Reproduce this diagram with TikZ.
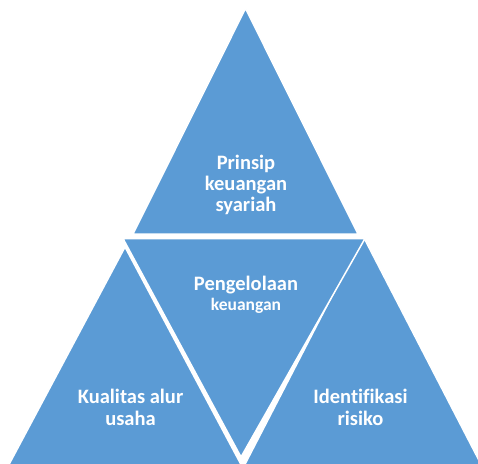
\documentclass[tikz,border=0pt]{standalone}
\usepackage{fontspec}
\setmainfont[Ligatures=NoCommon]{Carlito}
\definecolor{triblue}{HTML}{5B9BD5}
\tikzset{
  tri/.style={fill=triblue, draw=white, line width=1.5pt, line join=miter},
  lbl/.style={text=white, font=\bfseries\fontsize{20.5}{22}\selectfont, align=center, inner sep=0pt},
}
\begin{document}
\begin{tikzpicture}[x=1pt,y=-1pt]
\useasboundingbox (0,0) rectangle (478,463);
\clip (0,0) rectangle (478,463);
% bottom-left triangle
\path[tri] (125,247) -- (5,472) -- (245,472) -- cycle;
% bottom-right triangle
\path[tri] (363,236) -- (241,472) -- (485,472) -- cycle;
% top triangle
\path[tri] (245.5,8.5) -- (133,234) -- (358,234) -- cycle;
% middle inverted triangle
\path[tri] (123,238.5) -- (365,238.5) -- (241,457) -- cycle;
% labels
\node[lbl] (top) at (246,185) {Prinsip\\[-1pt]keuangan\\[-1pt]syariah};
\node[lbl, anchor=base] (mid) at (246,290) {Pengelolaan};
\node[lbl, anchor=base, font=\bfseries\fontsize{17.5}{20}\selectfont] (mid2) at (246,310) {keuangan};
\node[lbl, anchor=base] (left1) at (130.5,403) {Kualitas alur};
\node[lbl, anchor=base] (left2) at (130.5,425) {usaha};
\node[lbl, anchor=base] (right1) at (360.5,403) {Identifikasi};
\node[lbl, anchor=base] (right2) at (360.5,425) {risiko};
\end{tikzpicture}
\end{document}
